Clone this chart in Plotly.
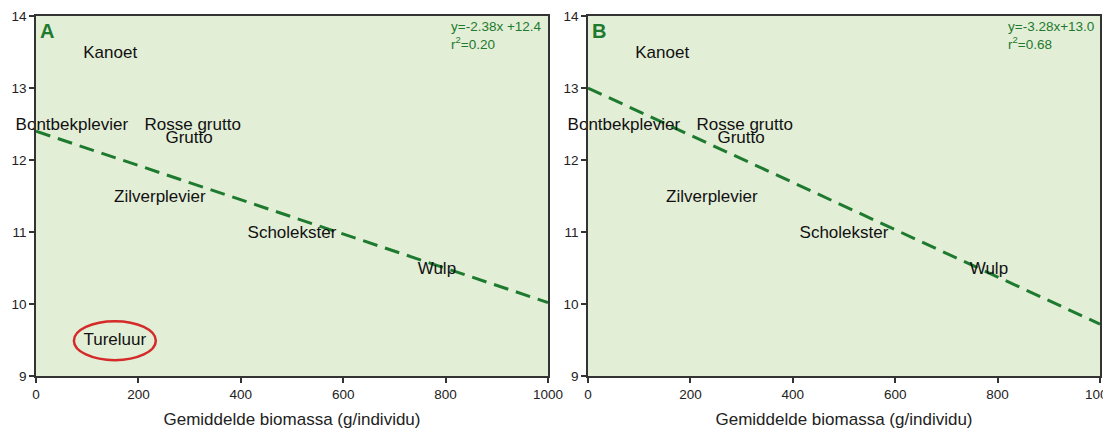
import plotly.graph_objects as go
from plotly.subplots import make_subplots

# Data (biomass g/individual, value)
species_a = ["Kanoet", "Bontbekplevier", "Rosse grutto", "Grutto", "Zilverplevier",
             "Scholekster", "Wulp", "Tureluur"]
biomass_a = [145, 70, 306, 299, 242, 500, 783, 154]
value_a = [13.47, 12.47, 12.47, 12.29, 11.47, 10.97, 10.47, 9.49]

species_b = ["Kanoet", "Bontbekplevier", "Rosse grutto", "Grutto", "Zilverplevier",
             "Scholekster", "Wulp"]
biomass_b = [145, 70, 306, 299, 242, 500, 783]
value_b = [13.47, 12.47, 12.47, 12.29, 11.47, 10.97, 10.47]

# regression (slope per 1000 g, intercept)
slope_a, icpt_a = -2.38, 12.4
slope_b, icpt_b = -3.28, 13.0
eq_a = ["y=-2.38x +12.4", "r<sup>2</sup>=0.20"]
eq_b = ["y=-3.28x+13.0", "r<sup>2</sup>=0.68"]

x_ticks = [0, 200, 400, 600, 800, 1000]
y_ticks = [9, 10, 11, 12, 13, 14]
x_title = "Gemiddelde biomassa (g/individu)"

BG = "#e3eed7"
GREEN = "#1d7a2e"
FONT = "Arial, Liberation Sans, sans-serif"

fig = make_subplots(rows=1, cols=2, horizontal_spacing=0.0376)

for col, (sp, bx, vy, sl, ic, eq, lab) in enumerate([
        (species_a, biomass_a, value_a, slope_a, icpt_a, eq_a, "A"),
        (species_b, biomass_b, value_b, slope_b, icpt_b, eq_b, "B")], start=1):
    xl = [0, 1000]
    yl = [ic + sl * x / 1000 for x in xl]
    fig.add_trace(go.Scatter(x=xl, y=yl, mode="lines",
                             line=dict(color=GREEN, width=3, dash="15px,8px"),
                             showlegend=False, hoverinfo="skip"), row=1, col=col)
    fig.add_trace(go.Scatter(x=bx, y=vy, mode="text", text=sp,
                             textposition="middle center", cliponaxis=False,
                             textfont=dict(family=FONT, size=17, color="#111111"),
                             showlegend=False), row=1, col=col)
    xr = "x" if col == 1 else "x2"
    yr = "y" if col == 1 else "y2"
    fig.add_annotation(x=0, y=14, xref=xr, yref=yr, text="<b>" + lab + "</b>",
                       showarrow=False, xanchor="left", yanchor="top", xshift=2, yshift=-2,
                       font=dict(family=FONT, size=20, color=GREEN))
    fig.add_annotation(x=1000, y=14, xref=xr, yref=yr, text="<br>".join(eq),
                       showarrow=False, xanchor="right", yanchor="top", align="left",
                       xshift=-4, yshift=-1,
                       font=dict(family=FONT, size=13.5, color=GREEN))
    fig.update_xaxes(range=[0, 1000], tickvals=x_ticks, ticks="outside", ticklen=5,
                     tickwidth=1.5, tickcolor="#333", showline=True, linecolor="#333",
                     linewidth=1.5, mirror=True, showgrid=False, zeroline=False,
                     automargin=False, ticklabeloverflow="allow",
                     tickfont=dict(family=FONT, size=13.5, color="#222"),
                     title=dict(text=x_title, standoff=12,
                                font=dict(family=FONT, size=17, color="#222")),
                     row=1, col=col)
    fig.update_yaxes(range=[9, 14], tickvals=y_ticks, ticks="outside", ticklen=5,
                     tickwidth=1.5, tickcolor="#333", showline=True, linecolor="#333",
                     linewidth=1.5, mirror=True, showgrid=False, zeroline=False,
                     automargin=False,
                     tickfont=dict(family=FONT, size=13.5, color="#222"),
                     row=1, col=col)

# red ellipse around Tureluur
ti = species_a.index("Tureluur")
tx, ty = biomass_a[ti], value_a[ti]
fig.add_shape(type="circle", xref="x", yref="y",
              x0=tx - 80, x1=tx + 80, y0=ty - 0.27, y1=ty + 0.27,
              line=dict(color="#d42a2a", width=2.5))

# page body has an 8px default margin; compensate so the plot sits where the reference does
fig.update_layout(width=1103, height=429, plot_bgcolor=BG, paper_bgcolor="white",
                  margin=dict(l=28, r=11, t=8, b=61, autoexpand=False),
                  font=dict(family=FONT))

fig.write_html("out.html")
